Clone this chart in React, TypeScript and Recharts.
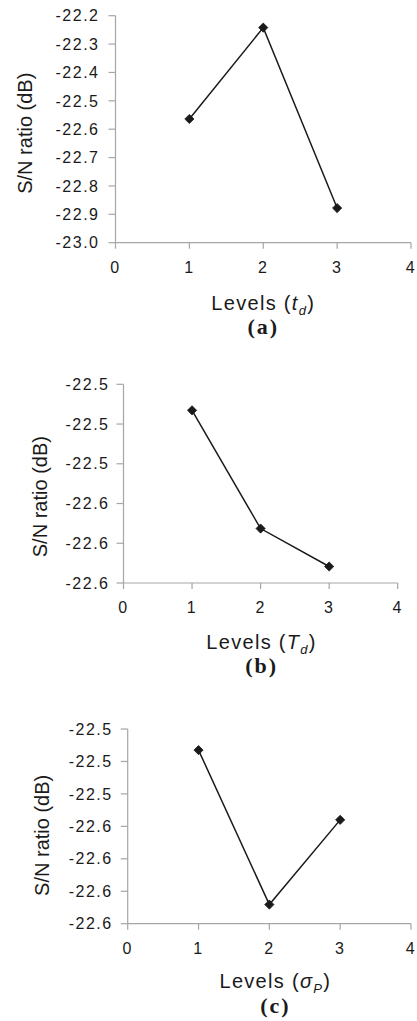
import React from "react";
import { LineChart, Line, XAxis, YAxis } from "recharts";

// levels on the x axis
const levels = [1, 2, 3];
const xTicks = [0, 1, 2, 3, 4];

// (a) S/N ratio vs t_d
const snA = [-22.564, -22.242, -22.878];
const yTicksA = [-23.0, -22.9, -22.8, -22.7, -22.6, -22.5, -22.4, -22.3, -22.2];

// (b) S/N ratio vs T_d
const snB = [-22.5131, -22.5726, -22.5917];
const yTicksB = [-22.6, -22.58, -22.56, -22.54, -22.52, -22.5];

// (c) S/N ratio vs sigma_P
const snC = [-22.5265, -22.5741, -22.548];
const yTicksC = [-22.58, -22.57, -22.56, -22.55, -22.54, -22.53, -22.52];

const AXIS = "#a6a6a6";
const INK = "#1a1a1a";
const SANS = "'Liberation Sans', Arial, sans-serif";
const SERIF = "'Liberation Serif', 'Times New Roman', serif";

const Diamond = (props: any) => {
  const { cx, cy, index } = props;
  if (cx == null || cy == null) return null;
  const r = 4.6;
  return (
    <path
      key={`dm-${index}`}
      d={`M${cx},${cy - r}L${cx + r},${cy}L${cx},${cy + r}L${cx - r},${cy}Z`}
      fill={INK}
      stroke={INK}
      strokeWidth={0.8}
    />
  );
};

interface PanelProps {
  values: number[];
  yTicks: number[];
  yDomain: [number, number];
  width: number;
  height: number;
  margin: { top: number; right: number; left: number; bottom: number };
  yAxisWidth: number;
  yTickMargin: number;
  yLabelX: number;
  yLabelDy: number;
  xTitleDx: number;
  xTitleY: number;
  captionY: number;
  sym: string;
  sub: string;
  caption: string;
}

function Panel(p: PanelProps) {
  const data = levels.map((lv, i) => ({ level: lv, sn: p.values[i] }));

  const xTitle = (props: any) => {
    const vb = props.viewBox;
    const cx = vb.x + vb.width / 2 + p.xTitleDx;
    return (
      <g>
        <text
          x={cx}
          y={vb.y + p.xTitleY}
          textAnchor="middle"
          fontFamily={SANS}
          fontSize={20}
          letterSpacing={1.3}
          fill={INK}
        >
          Levels (
          <tspan fontStyle="italic">{p.sym}</tspan>
          <tspan dy={5} fontSize={13} fontStyle="italic">
            {p.sub}
          </tspan>
          <tspan dy={-5}>)</tspan>
        </text>
        <text
          x={cx}
          y={vb.y + p.captionY}
          textAnchor="middle"
          fontFamily={SERIF}
          fontWeight="bold"
          fontSize={22}
          letterSpacing={2}
          fill={INK}
        >
          {p.caption}
        </text>
      </g>
    );
  };

  const yTitle = (props: any) => {
    const vb = props.viewBox;
    const x = p.yLabelX;
    const y = vb.y + vb.height / 2 + p.yLabelDy;
    return (
      <text
        x={x}
        y={y}
        transform={`rotate(-90 ${x} ${y})`}
        textAnchor="middle"
        dominantBaseline="central"
        fontFamily={SANS}
        fontSize={20}
        fill={INK}
      >
        S/N ratio (dB)
      </text>
    );
  };

  return (
    <LineChart width={p.width} height={p.height} data={data} margin={p.margin}>
      <XAxis
        dataKey="level"
        type="number"
        domain={[0, 4]}
        ticks={xTicks}
        interval={0}
        allowDecimals={false}
        axisLine={{ stroke: AXIS, strokeWidth: 1.2 }}
        tickLine={{ stroke: AXIS, strokeWidth: 1.2 }}
        tickSize={6}
        tickMargin={13}
        height={97}
        tick={{ fill: INK, fontSize: 16, fontFamily: SANS, letterSpacing: 1.5 }}
        label={xTitle}
      />
      <YAxis
        type="number"
        domain={p.yDomain}
        ticks={p.yTicks}
        interval={0}
        width={p.yAxisWidth}
        axisLine={{ stroke: AXIS, strokeWidth: 1.2 }}
        tickLine={{ stroke: AXIS, strokeWidth: 1.2 }}
        tickSize={7}
        tickMargin={p.yTickMargin}
        tickFormatter={(v: number) => v.toFixed(1)}
        tick={{ fill: INK, fontSize: 16, fontFamily: SANS, letterSpacing: 1.5 }}
        label={yTitle}
      />
      <Line
        type="linear"
        dataKey="sn"
        stroke={INK}
        strokeWidth={1.5}
        dot={Diamond}
        activeDot={false}
        isAnimationActive={false}
      />
    </LineChart>
  );
}

export default function App() {
  return (
    <div
      style={{
        position: "absolute",
        left: 0,
        top: 0,
        width: 417,
        height: 1021,
        background: "#fff",
      }}
    >
      <div style={{ position: "absolute", left: 0, top: 0 }}>
        <Panel
          values={snA}
          yTicks={yTicksA}
          yDomain={[-23.0, -22.2]}
          width={417}
          height={340}
          margin={{ top: 15.7, right: 6, left: 0, bottom: 0.3 }}
          yAxisWidth={115.5}
          yTickMargin={9}
          yLabelX={25}
          yLabelDy={4}
          xTitleDx={0}
          xTitleY={67}
          captionY={91}
          sym="t"
          sub="d"
          caption="(a)"
        />
      </div>
      <div style={{ position: "absolute", left: 0, top: 340 }}>
        <Panel
          values={snB}
          yTicks={yTicksB}
          yDomain={[-22.6, -22.5]}
          width={417}
          height={340}
          margin={{ top: 44.3, right: 19.3, left: 0, bottom: 0 }}
          yAxisWidth={123.5}
          yTickMargin={7}
          yLabelX={40}
          yLabelDy={13}
          xTitleDx={1}
          xTitleY={66}
          captionY={90}
          sym="T"
          sub="d"
          caption="(b)"
        />
      </div>
      <div style={{ position: "absolute", left: 0, top: 680 }}>
        <Panel
          values={snC}
          yTicks={yTicksC}
          yDomain={[-22.58, -22.52]}
          width={417}
          height={341}
          margin={{ top: 49, right: 6, left: 0, bottom: 0.3 }}
          yAxisWidth={127.7}
          yTickMargin={8}
          yLabelX={42}
          yLabelDy={9}
          xTitleDx={6}
          xTitleY={64}
          captionY={89}
          sym="σ"
          sub="P"
          caption="(c)"
        />
      </div>
    </div>
  );
}
